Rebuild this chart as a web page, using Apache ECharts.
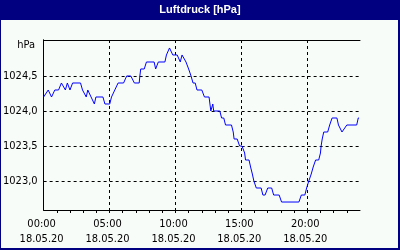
<!DOCTYPE html>
<html><head><meta charset="utf-8">
<script src="https://cdn.jsdelivr.net/npm/echarts@6/dist/echarts.min.js"></script>
<style>html,body{margin:0;padding:0;background:#000080}#c{width:400px;height:250px}</style>
</head><body><div id="c"></div>
<script>
const chartTitle = 'Luftdruck [hPa]';
const unitLabel = 'hPa';
const dateLabel = '18.05.20';
const timeMinutes = [0,21,36,51,68,81,90,99,108,120,132,168,177,186,194,201,216,231,238,270,279,301,309,324,339,364,378,397,413,435,438,442,458,468,503,510,522,552,559,573,581,588,608,622,630,639,648,660,671,680,690,698,720,732,753,761,770,774,802,810,820,828,855,863,867,881,892,903,915,919,935,942,950,957,968,990,998,1008,1020,1038,1047,1072,1083,1162,1173,1189,1197,1207,1218,1227,1238,1252,1260,1263,1268,1275,1293,1302,1313,1335,1342,1350,1358,1365,1380,1425,1432,1436];
const pressure = [1024.2,1024.3,1024.2,1024.3,1024.3,1024.4,1024.4,1024.3,1024.4,1024.3,1024.4,1024.4,1024.3,1024.3,1024.2,1024.3,1024.2,1024.1,1024.2,1024.2,1024.1,1024.1,1024.2,1024.3,1024.4,1024.4,1024.5,1024.5,1024.4,1024.4,1024.5,1024.6,1024.6,1024.7,1024.7,1024.6,1024.7,1024.7,1024.8,1024.9,1024.9,1024.8,1024.8,1024.7,1024.8,1024.8,1024.7,1024.6,1024.5,1024.4,1024.4,1024.3,1024.3,1024.2,1024.2,1024.0,1024.1,1024.0,1024.0,1023.9,1023.9,1023.8,1023.8,1023.7,1023.6,1023.6,1023.5,1023.5,1023.4,1023.3,1023.3,1023.2,1023.1,1023.0,1022.9,1022.9,1022.8,1022.8,1022.9,1022.9,1022.8,1022.8,1022.7,1022.7,1022.8,1022.8,1022.9,1023.0,1023.1,1023.2,1023.3,1023.3,1023.4,1023.5,1023.6,1023.7,1023.7,1023.8,1023.9,1023.9,1023.8,1023.8,1023.7,1023.7,1023.8,1023.8,1023.9,1023.9];
const yTicks = [1023.0, 1023.5, 1024.0, 1024.5];
const yMin = 1022.586, yMax = 1025.014;
const xTickMinutes = [0, 300, 600, 900, 1200];
const xTickLabels = ['00:00', '05:00', '10:00', '15:00', '20:00'];
const hourTicks = [60,120,180,240,300,360,420,480,540,600,660,720,780,840,900,960,1020,1080,1140,1200,1260,1320,1380];

const FONT = "'Liberation Sans Narrow','DejaVu Sans Condensed',sans-serif";
const chart = echarts.init(document.getElementById('c'), null, {renderer:'canvas'});
const dash = {color:'#000', width:1, type:[3,3]};
chart.setOption({
  animation: false,
  backgroundColor: '#000080',
  graphic: [
    {type:'rect', shape:{x:1, y:20, width:397, height:228}, style:{fill:'#f8fcf8'}, z:-10},
    {type:'text', x:200, y:10, style:{text:chartTitle, fill:'#fff', font:"bold 11px 'Liberation Sans',Arial,sans-serif", textAlign:'center', textVerticalAlign:'middle'}},
    {type:'text', x:35, y:45, style:{text:unitLabel, fill:'#000', font:"11px " + FONT, textAlign:'right', textVerticalAlign:'middle'}}
  ],
  grid: {left:40, top:40, width:320, height:170, show:false},
  xAxis: [
    {type:'value', min:0, max:1440, position:'bottom',
     axisLine:{show:true, lineStyle:{color:'#000', width:1}},
     axisTick:{show:false, customValues: xTickMinutes},
     splitLine:{show:true, lineStyle:dash},
     axisLabel:{customValues: xTickMinutes, margin:7, lineHeight:15, color:'#000', fontSize:11, fontFamily:FONT, padding:[0,4,0,0],
       formatter: v => { const i = xTickMinutes.indexOf(v); return i < 0 ? '' : xTickLabels[i] + '\n' + dateLabel; }}},
    {type:'value', min:0, max:1440, position:'bottom',
     axisLine:{show:false}, axisLabel:{show:false}, splitLine:{show:false},
     axisTick:{show:true, customValues: hourTicks, length:3, lineStyle:{color:'#000'}}},
    {type:'value', min:0, max:1440, position:'top',
     axisLine:{show:true, lineStyle:{color:'#000', width:1}}, axisLabel:{show:false}, splitLine:{show:false}, axisTick:{show:false}}
  ],
  yAxis: [
    {type:'value', min:yMin, max:yMax, position:'left',
     axisLine:{show:true, lineStyle:{color:'#000', width:1}},
     axisTick:{show:false, customValues: yTicks},
     splitLine:{show:true, lineStyle:dash},
     axisLabel:{customValues: yTicks, margin:6, color:'#000', fontSize:11, fontFamily:FONT,
       formatter: v => v.toFixed(1).replace('.', ',')}},
    {type:'value', min:yMin, max:yMax, position:'right',
     axisLine:{show:true, lineStyle:{color:'#000', width:1}}, axisLabel:{show:false}, splitLine:{show:false}, axisTick:{show:false}}
  ],
  series: [{
    type:'line', xAxisIndex:0, yAxisIndex:0, showSymbol:false, symbol:'none',
    lineStyle:{color:'#0000ff', width:1}, itemStyle:{color:'#0000ff'},
    data: timeMinutes.map((t, i) => [t, pressure[i]])
  }]
});
</script></body></html>
